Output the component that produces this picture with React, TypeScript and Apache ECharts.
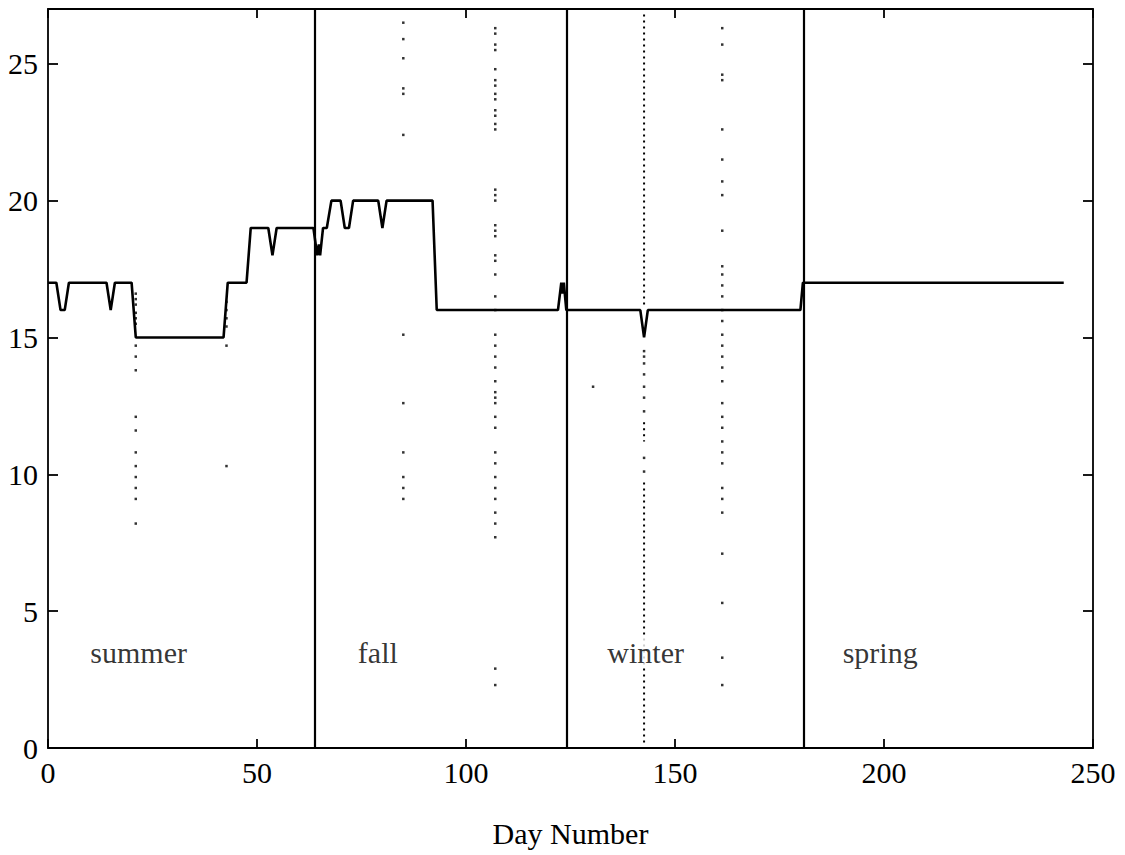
import React, { useEffect, useRef } from "react";
import * as echarts from "echarts";

// Main temperature trace (day, value)
const lineDays = [0, 2, 3, 4, 5, 14, 15, 16, 20, 21, 42, 43, 47.5, 48.5, 52.7, 53.7, 54.7, 63.5, 64.4, 64.8, 65.1, 65.8, 66.7, 67.8, 70, 71, 72, 73, 79, 80, 81, 92, 93, 122, 122.8, 123.1, 123.4, 124, 141.7, 142.6, 143.5, 180, 180.6, 243];
const lineTemps = [17, 17, 16, 16, 17, 17, 16, 17, 17, 15, 15, 17, 17, 19, 19, 18, 19, 19, 18, 18.4, 18, 19, 19, 20, 20, 19, 19, 20, 20, 19, 20, 20, 16, 16, 17, 16.6, 17, 16, 16, 15, 16, 16, 17, 17];

// Season boundaries and labels
const seasonBounds = [63.7, 124, 180.8];
const seasonNames = ["summer", "fall", "winter", "spring"];
const seasonLabelDays = [10, 74, 133.7, 190];
const seasonLabelY = 3.5;

// Dotted columns (sparse dots)
const dotColumnDays = [21, 42.7, 85, 107, 142.6, 161.3, 130.4];
const dotsA = [16.6, 16.4, 16.2, 15.9, 15.7, 15.5, 14.7, 14.3, 13.8, 12.1, 11.6, 10.8, 10.3, 9.9, 9.5, 9.1, 8.2];
const dotsB = [16.3, 16.0, 15.7, 15.4, 14.7, 10.3];
const dotsC = [26.5, 25.9, 25.2, 24.1, 23.9, 22.4, 15.1, 12.6, 10.8, 9.9, 9.5, 9.1];
const dotsD = [26.3, 26.1, 25.7, 25.5, 24.8, 24.4, 24.2, 23.9, 23.7, 23.3, 23.1, 22.8, 22.6, 20.4, 20.2, 20.0, 19.1, 18.9, 18.7, 18.0, 17.8, 17.3, 16.5, 16.0, 15.1, 14.7, 14.3, 13.9, 13.4, 13.0, 12.8, 12.6, 12.1, 11.7, 10.8, 10.4, 9.9, 9.5, 9.1, 8.6, 8.2, 7.7, 2.9, 2.3];
const dotsE = [14.5, 14.3, 14.05, 13.65, 13.2, 12.8, 12.3, 10.6, 10.1];
const dotsF = [26.3, 25.7, 24.6, 24.4, 22.6, 21.5, 20.7, 20.2, 18.9, 17.6, 17.3, 16.9, 16.5, 16.0, 15.6, 15.1, 14.7, 14.3, 13.9, 13.4, 12.6, 12.1, 11.7, 11.2, 10.8, 10.4, 9.5, 9.1, 8.6, 7.1, 5.3, 3.3, 2.3];
const dotsStray = [13.2];
const dotColumns = [dotsA, dotsB, dotsC, dotsD, dotsE, dotsF, dotsStray];

// Dense dotted segments in column E (from, to)
const denseDay = 142.6;
const denseSegFrom = [26.8, 11.9, 9.7];
const denseSegTo = [16.2, 11.2, 0.2];

// Axis ticks
const xMin = 0, xMax = 250, xStep = 50;
const yMin = 0, yMax = 27, yStep = 5;

const FONT = "'Liberation Serif', 'Times New Roman', serif";

export default function App() {
  const ref = useRef<HTMLDivElement>(null);
  useEffect(() => {
    if (!ref.current) return;
    const chart = echarts.init(ref.current, undefined, { renderer: "svg" });

    const lineData = lineDays.map((d, i) => [d, lineTemps[i]]);
    const dotData: number[][] = [];
    dotColumns.forEach((col, ci) => col.forEach((v) => dotData.push([dotColumnDays[ci], v])));

    const denseSeries = denseSegFrom.map((f, i) => ({
      type: "line",
      data: [[denseDay, f], [denseDay, denseSegTo[i]]],
      symbol: "none",
      silent: true,
      lineStyle: { color: "#000", width: 2, type: [2, 4] },
      z: 1,
    }));

    const axisLabel = { fontSize: 30, fontFamily: FONT, color: "#000" };
    const axisLine = { show: true, onZero: false, lineStyle: { color: "#000", width: 1.8 } };
    const tick = (len: number) => ({ show: true, inside: true, length: len, lineStyle: { color: "#000", width: 1.8 } });

    chart.setOption({
      animation: false,
      backgroundColor: "#fff",
      grid: { left: 48, right: 32, top: 9, bottom: 107, containLabel: false },
      xAxis: [
        {
          type: "value", min: xMin, max: xMax, interval: xStep, position: "bottom",
          axisLine, axisTick: tick(9), splitLine: { show: false },
          axisLabel: { ...axisLabel, margin: 9 },
          name: "Day Number", nameLocation: "middle", nameGap: 70,
          nameTextStyle: { fontSize: 30, fontFamily: FONT, color: "#000" },
        },
        {
          type: "value", min: xMin, max: xMax, interval: xStep, position: "top",
          axisLine, axisTick: tick(9), splitLine: { show: false }, axisLabel: { show: false },
        },
      ],
      yAxis: [
        {
          type: "value", min: yMin, max: yMax, interval: yStep, position: "left",
          axisLine, axisTick: tick(10), splitLine: { show: false },
          axisLabel: { ...axisLabel, margin: 10, showMaxLabel: false },
        },
        {
          type: "value", min: yMin, max: yMax, interval: yStep, position: "right",
          axisLine, axisTick: tick(10), splitLine: { show: false }, axisLabel: { show: false },
        },
      ],
      series: [
        {
          type: "scatter",
          data: dotData,
          symbol: "rect",
          symbolSize: 2.5,
          itemStyle: { color: "#000" },
          silent: true,
          z: 1,
        },
        ...denseSeries,
        {
          type: "line",
          data: lineData,
          symbol: "none",
          lineStyle: { color: "#000", width: 2.6 },
          silent: true,
          z: 3,
          markLine: {
            silent: true,
            symbol: "none",
            label: { show: false },
            lineStyle: { color: "#000", width: 2.2, type: "solid" },
            data: seasonBounds.map((x) => ({ xAxis: x })),
          },
        },
        {
          type: "scatter",
          data: seasonNames.map((n, i) => ({ name: n, value: [seasonLabelDays[i], seasonLabelY] })),
          symbolSize: 1,
          itemStyle: { color: "transparent" },
          silent: true,
          z: 5,
          label: {
            show: true,
            position: "right",
            distance: 0,
            formatter: "{b}",
            fontSize: 30,
            fontFamily: FONT,
            color: "#000",
            backgroundColor: "#fff",
          },
        },
      ],
    });
    return () => chart.dispose();
  }, []);
  return (
    <div
      ref={ref}
      style={{ position: "absolute", left: 0, top: 0, width: 1125, height: 855, background: "#fff" }}
    />
  );
}
